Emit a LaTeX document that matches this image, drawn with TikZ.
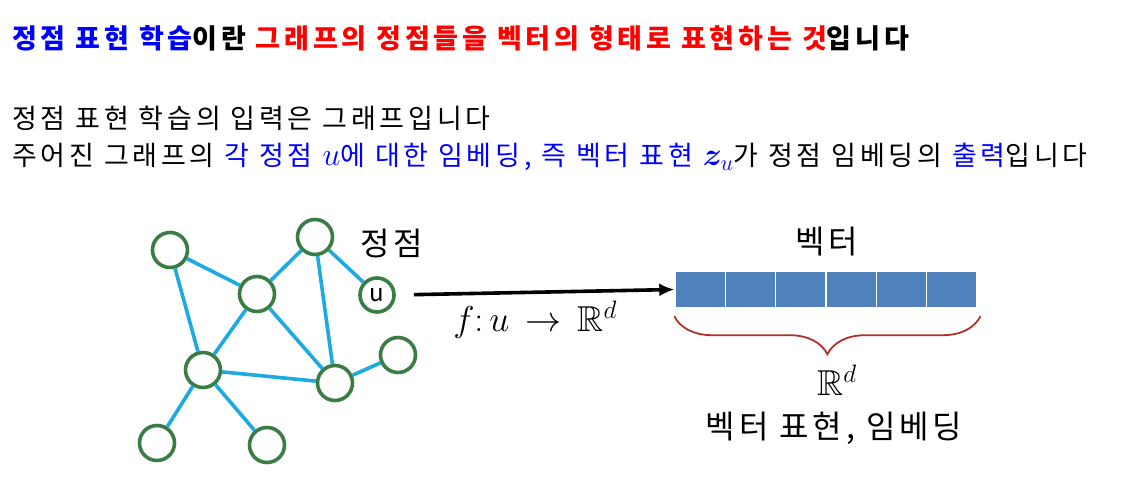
\RequirePackage{fix-cm}
\documentclass[tikz,border=0pt]{standalone}
\usepackage{amsmath,amsfonts,amssymb}
\DeclareFontFamily{U}{msb}{}
\DeclareFontShape{U}{msb}{m}{n}{<-6> msbm5 <6-8> msbm7 <8-> msbm10}{}
\usepackage{bm}
\usepackage{fontspec}
\setmainfont{Noto Sans CJK KR}[LetterSpace=14]
\newfontfamily\labelfont{Noto Sans CJK KR}[LetterSpace=12]
\usepackage{tikz}
\usetikzlibrary{math,arrows.meta,decorations.pathreplacing}
\definecolor{GraphGreen}{RGB}{58,125,68}
\definecolor{EdgeBlue}{RGB}{27,170,225}
\definecolor{VecBlue}{RGB}{79,129,189}
\definecolor{BraceRed}{RGB}{175,50,42}
\tikzset{%
  px/.style={x={(1pt,0pt)},y={(0pt,-1pt)}},
  vertex/.style={circle, draw=GraphGreen, line width=3.6pt, minimum size=35pt, inner sep=0pt},
  graph edge/.style={draw=EdgeBlue, line width=3.6pt},
  vec cell/.style={fill=VecBlue, draw=white, line width=1.4pt, minimum width=50.3pt, minimum height=36pt, inner sep=0pt},
  line text/.style={anchor=west, inner sep=0pt, font=\fontsize{27}{30}\selectfont},
  big label/.style={font=\labelfont\fontsize{32}{32}\selectfont},
  big math/.style={font=\fontsize{36}{36}\selectfont}
}
\newcommand*{\inlinem}[1]{{\fontsize{32}{32}\selectfont$#1$}}

\begin{document}
\begin{tikzpicture}[px]
    \useasboundingbox (0,0) rectangle (1133,498);
    % Text lines.
    \node[line text, font=\fontsize{27}{30}\selectfont\bfseries] (title) at (12,38)
      {\color{blue}정점 표현 학습\color{black}이란 \color{red}그래프의 정점들을 벡터의 형태로 표현하는 것\color{black}입니다};
    \node[line text] (input) at (12,118) {정점 표현 학습의 입력은 그래프입니다};
    \node[line text] (output) at (12,157)
      {주어진 그래프의 \color{blue}각 정점 \inlinem{u}에 대한 임베딩, 즉 벡터 표현 \inlinem{\bm{z}_u}\color{black}가 정점 임베딩의 \color{blue}출력\color{black}입니다};
    % Graph.
    \node[vertex] (a) at (170,250) {};
    \node[vertex] (b) at (315,237) {};
    \node[vertex] (c) at (257,294) {};
    \node[vertex, minimum size=34pt, font=\fontsize{24}{24}\selectfont] (u) at (377,295) {u};
    \node[vertex] (d) at (203,370) {};
    \node[vertex] (e) at (335,383) {};
    \node[vertex] (f) at (398,355) {};
    \node[vertex] (g) at (157,443) {};
    \node[vertex] (h) at (267,445) {};
    \foreach \s/\t in {a/c,a/d,b/c,b/u,b/e,c/d,c/e,d/e,d/g,d/h,e/f}
      \path[graph edge] (\s) -- (\t);
    \node[big label] (vlabel) at (392,243) {정점};
    % Vector.
    \foreach \i in {1,...,6}
      \node[vec cell] (c\i) at (675+50.3*\i-25.15,289.5) {};
    \node[big label] (veclabel) at (827,242) {벡터};
    \draw[line width=3.6pt, -{Latex[length=15pt,width=13pt]}, shorten <=18pt] (u.east) -- (c1.west)
      node[midway, below=4pt, big math] (map) {$f{:}\,u\,\rightarrow\,\mathbb{R}^d$};
    % Brace.
    \draw[BraceRed, line width=1.8pt, decorate, decoration={brace, mirror, amplitude=38pt}]
      ([yshift=-8pt]c1.south west) -- ([yshift=-8pt,xshift=3pt]c6.south east);
    \node[big math] (space) at (837,380) {$\mathbb{R}^d$};
    \node[big label] (emb) at (834,428) {벡터 표현, 임베딩};
\end{tikzpicture}
\end{document}
